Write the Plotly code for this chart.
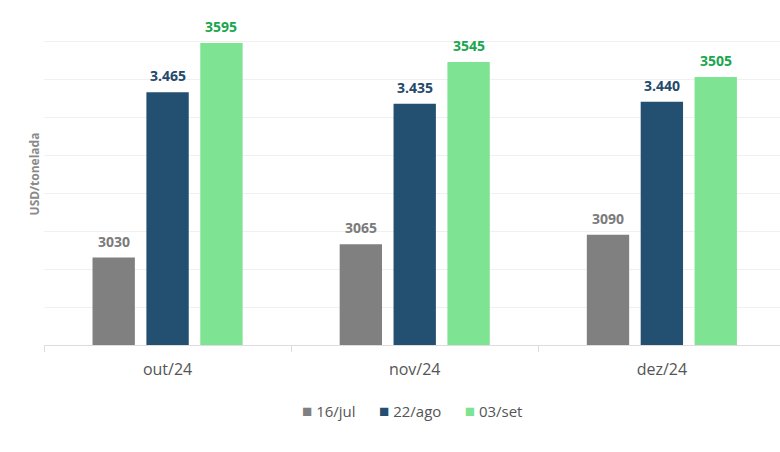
import plotly.graph_objects as go

categories = ["out/24", "nov/24", "dez/24"]
series_names = ["16/jul", "22/ago", "03/set"]
jul_values = [3030, 3065, 3090]
ago_values = [3465, 3435, 3440]
set_values = [3595, 3545, 3505]
jul_labels = ["3030", "3065", "3090"]
ago_labels = ["3.465", "3.435", "3.440"]
set_labels = ["3595", "3545", "3505"]

bar_colors = ["#808080", "#234f70", "#7ee392"]
label_colors = ["#7b7b7b", "#234a6b", "#1aa64e"]

all_values = [jul_values, ago_values, set_values]
all_labels = [jul_labels, ago_labels, set_labels]

fig = go.Figure()
for i, (name, vals, labels, bc, lc) in enumerate(zip(series_names, all_values, all_labels,
                                                      bar_colors, label_colors)):
    fig.add_trace(go.Bar(
        x=categories, y=vals, name=name,
        marker=dict(color=bc, line=dict(width=0)),
        offsetgroup=str(i), showlegend=False,
    ))

# value labels (positioned over each bar using category index + group offset)
bargap = 0.346
slot = (1 - bargap) / 3
for i, (vals, labels, lc) in enumerate(zip(all_values, all_labels, label_colors)):
    for j, (v, t) in enumerate(zip(vals, labels)):
        fig.add_annotation(
            x=j - (1 - bargap) / 2 + slot * (i + 0.5), y=v, xref="x", yref="y",
            text="<b>%s</b>" % t, showarrow=False, yanchor="bottom", yshift=5,
            font=dict(family="Open Sans", size=14, color=lc),
        )

legend_html = "      ".join(
    "<span style='color:%s;font-size:17px'>■</span> %s" % (c, n)
    for c, n in zip(bar_colors, series_names)
)
plot_h = 452 - 3 - 107
fig.add_annotation(
    x=0.5, y=(345 - 410) / plot_h, xref="paper", yref="paper", text=legend_html,
    showarrow=False, font=dict(family="Open Sans", size=15, color="#555555"),
    xanchor="center", yanchor="middle",
)

fig.update_layout(
    width=780, height=452,
    margin=dict(l=44, r=0, t=3, b=107),
    paper_bgcolor="white", plot_bgcolor="white",
    barmode="group", bargap=bargap, bargroupgap=0.214,
    font=dict(family="Open Sans", color="#555555"),
    showlegend=False,
    xaxis=dict(range=[-0.5, 2.478], showline=True, linecolor="#dddddd", linewidth=1,
               ticks="outside", tickson="boundaries", ticklen=6, tickcolor="#dddddd",
               tickfont=dict(size=16, color="#555555"), ticklabelstandoff=10, showgrid=False),
    yaxis=dict(range=[2800, 3700], dtick=100, showticklabels=False,
               showgrid=True, gridcolor="#f0f0f0", zeroline=False,
               title=dict(text="<b>USD/tonelada</b>", font=dict(size=12, color="#8a8a8a"),
                          standoff=0)),
)

fig.write_html("out.html")
